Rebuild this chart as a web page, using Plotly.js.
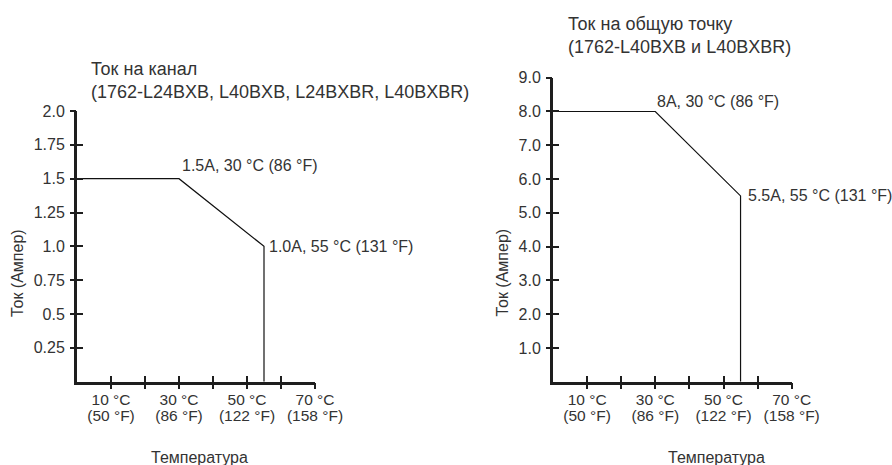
<!DOCTYPE html>
<html>
<head>
<meta charset="utf-8">
<script src="https://cdn.plot.ly/plotly-3.0.1.min.js"></script>
<style>html,body{margin:0;padding:0;background:#fff;}#chart{width:892px;height:465px;}</style>
</head>
<body>
<div id="chart"></div>
<script>
// ---- data ----
const tempLeft = [0, 30, 55, 55];
const currentLeft = [1.5, 1.5, 1.0, 0];
const tempRight = [0, 30, 55, 55];
const currentRight = [8, 8, 5.5, 0];

const xTickVals = [10, 20, 30, 40, 50, 60, 70];
const xTickC = ["10 °C", "", "30 °C", "", "50 °C", "", "70 °C"];
const xTickF = ["(50 °F)", "", "(86 °F)", "", "(122 °F)", "", "(158 °F)"];

const yLeftVals = [0.25, 0.5, 0.75, 1.0, 1.25, 1.5, 1.75, 2.0];
const yLeftText = ["0.25", "0.5", "0.75", "1.0", "1.25", "1.5", "1.75", "2.0"];
const yRightVals = [1, 2, 3, 4, 5, 6, 7, 8, 9];
const yRightText = ["1.0", "2.0", "3.0", "4.0", "5.0", "6.0", "7.0", "8.0", "9.0"];

const pointLabelsLeft = ["1.5A, 30 °C (86 °F)", "1.0A, 55 °C (131 °F)"];
const pointIdxLeft = [1, 2];
const pointLabelsRight = ["8A, 30 °C (86 °F)", "5.5A, 55 °C (131 °F)"];
const pointIdxRight = [1, 2];

const titleLeft = "Ток на канал<br>(1762-L24BXB, L40BXB, L24BXBR, L40BXBR)";
const titleRight = "Ток на общую точку<br>(1762-L40BXB и L40BXBR)";
const yTitle = "Ток (Ампер)";
const xTitle = "Температура";

// ---- styles ----
const W = 892, H = 465;
const FONT = "'Liberation Sans', Arial, Helvetica, sans-serif";
const TXT = "#333333";
const AX = "#1e1e1e";
const FS = 16;
const px = v => v / W;
const py = v => 1 - v / H;

const lineStyle = {color: "#111111", width: 1.2};
const traces = [
  {x: tempLeft, y: currentLeft, xaxis: "x", yaxis: "y", mode: "lines", line: lineStyle, hoverinfo: "skip"},
  {x: tempRight, y: currentRight, xaxis: "x2", yaxis: "y2", mode: "lines", line: lineStyle, hoverinfo: "skip"},
  // empty helper traces so the overlay (tick) axes get drawn
  {x: [], y: [], xaxis: "x3", yaxis: "y", mode: "lines", hoverinfo: "skip"},
  {x: [], y: [], xaxis: "x", yaxis: "y3", mode: "lines", hoverinfo: "skip"},
  {x: [], y: [], xaxis: "x4", yaxis: "y2", mode: "lines", hoverinfo: "skip"},
  {x: [], y: [], xaxis: "x2", yaxis: "y4", mode: "lines", hoverinfo: "skip"}
];

const tf = {family: FONT, size: FS, color: TXT};
const xtf = {family: FONT, size: 15.5, color: TXT};
function xMain(domain, anchor) {
  return {domain: domain, range: [0, 70], anchor: anchor, showline: true, linewidth: 3, linecolor: AX,
    ticks: "inside", ticklen: 6, tickwidth: 2, tickcolor: AX, tickmode: "array", tickvals: xTickVals,
    ticktext: xTickC, tickfont: xtf, showgrid: false, zeroline: false,
    ticklabelstandoff: 2, fixedrange: true};
}
function xOver(over, anchor) {
  return {overlaying: over, range: [0, 70], anchor: anchor, side: "bottom", showline: false,
    ticks: "outside", ticklen: 6, tickwidth: 2, tickcolor: AX, tickmode: "array", tickvals: xTickVals,
    ticktext: xTickF, tickfont: xtf, showgrid: false, zeroline: false,
    ticklabelstandoff: 14, fixedrange: true};
}
function yMain(domain, anchor, range, vals, text) {
  return {domain: domain, range: range, anchor: anchor, showline: true, linewidth: 3, linecolor: AX,
    ticks: "inside", ticklen: 6, tickwidth: 2, tickcolor: AX, tickmode: "array", tickvals: vals,
    ticktext: text, tickfont: tf, showgrid: false, zeroline: false,
    ticklabelstandoff: 6, fixedrange: true};
}
function yOver(over, anchor, range, vals) {
  return {overlaying: over, range: range, anchor: anchor, side: "left", showline: false,
    ticks: "outside", ticklen: 6, tickwidth: 2, tickcolor: AX, tickmode: "array", tickvals: vals,
    showticklabels: false, showgrid: false, zeroline: false, fixedrange: true};
}

const yDomBottom = py(381.7);
const annotations = [];
function addText(text, x, y, opts) {
  annotations.push(Object.assign({text: text, x: px(x), y: py(y), xref: "paper", yref: "paper",
    showarrow: false, font: tf}, opts || {}));
}
const titleFont = {family: FONT, size: 18, color: TXT};
addText(titleLeft, 89, 80, {xanchor: "left", yanchor: "middle", align: "left", font: titleFont});
addText(titleRight, 566, 35, {xanchor: "left", yanchor: "middle", align: "left", font: titleFont});
addText(yTitle, 17, 273, {textangle: -90, xanchor: "center", yanchor: "middle"});
addText(yTitle, 501.5, 273, {textangle: -90, xanchor: "center", yanchor: "middle"});
addText(xTitle, 199, 457, {xanchor: "center", yanchor: "middle"});
addText(xTitle, 716.5, 457, {xanchor: "center", yanchor: "middle"});

pointIdxLeft.forEach((i, k) => {
  annotations.push({text: pointLabelsLeft[k], x: tempLeft[i], y: currentLeft[i], xref: "x", yref: "y",
    showarrow: false, xanchor: "left", yanchor: "middle", xshift: k === 0 ? 1 : 3, yshift: k === 0 ? 13 : 0,
    font: tf});
});
pointIdxRight.forEach((i, k) => {
  annotations.push({text: pointLabelsRight[k], x: tempRight[i], y: currentRight[i], xref: "x2", yref: "y2",
    showarrow: false, xanchor: "left", yanchor: "middle", xshift: k === 0 ? 0 : 5, yshift: k === 0 ? 10 : 0,
    font: tf});
});

const layout = {
  width: W, height: H, autosize: false, showlegend: false,
  margin: {l: 0, r: 0, t: 0, b: 0, pad: 0},
  paper_bgcolor: "#ffffff", plot_bgcolor: "rgba(0,0,0,0)",
  font: tf,
  xaxis: xMain([px(77), px(315)], "y"),
  yaxis: yMain([yDomBottom, py(111)], "x", [0, 2], yLeftVals, yLeftText),
  xaxis2: xMain([px(553), px(791.7)], "y2"),
  yaxis2: yMain([yDomBottom, py(77.7)], "x2", [0, 9], yRightVals, yRightText),
  xaxis3: xOver("x", "y"),
  yaxis3: yOver("y", "x", [0, 2], yLeftVals),
  xaxis4: xOver("x2", "y2"),
  yaxis4: yOver("y2", "x2", [0, 9], yRightVals),
  annotations: annotations
};

Plotly.newPlot("chart", traces, layout, {staticPlot: true, displayModeBar: false});
</script>
</body>
</html>
